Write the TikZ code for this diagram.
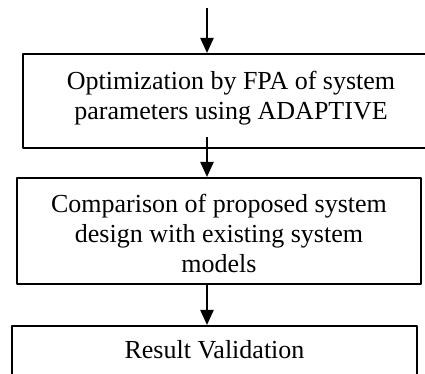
\documentclass[tikz,border=0pt]{standalone}
\usepackage{fontspec}
\setmainfont{Liberation Serif}
\usetikzlibrary{arrows.meta}
\begin{document}
\begin{tikzpicture}[x=0.5pt, y=-0.5pt, line join=round, font=\fontsize{13pt}{15pt}\selectfont, >={Triangle[width=6.5pt,length=7.5pt]},
	stage/.style={draw, line width=1pt, align=center, anchor=north, inner xsep=0pt, inner ysep=0pt},
	flow/.style={->, line width=1.1pt}]
	\useasboundingbox (0,0) rectangle (425,374);
	\coordinate (src) at (207,8);
	\node[stage, minimum width=208pt, text height=33pt, text depth=14pt] (optim) at (231,53) {Optimization by FPA of system\\parameters using ADAPTIVE};
	\node[stage, minimum width=202pt, text height=47.5pt, text depth=5.5pt] (compar) at (219,177) {Comparison of proposed system\\design with existing system\\models};
	\node[stage, minimum width=202.5pt, text height=16.5pt, text depth=15pt] (result) at (214.5,325) {Result Validation};
	\draw[flow] (src) -- (src |- optim.north);
	\draw[flow] ([yshift=6pt]src |- optim.south) -- (src |- compar.north);
	\draw[flow] (src |- compar.south) -- (src |- result.north);
\end{tikzpicture}
\end{document}
